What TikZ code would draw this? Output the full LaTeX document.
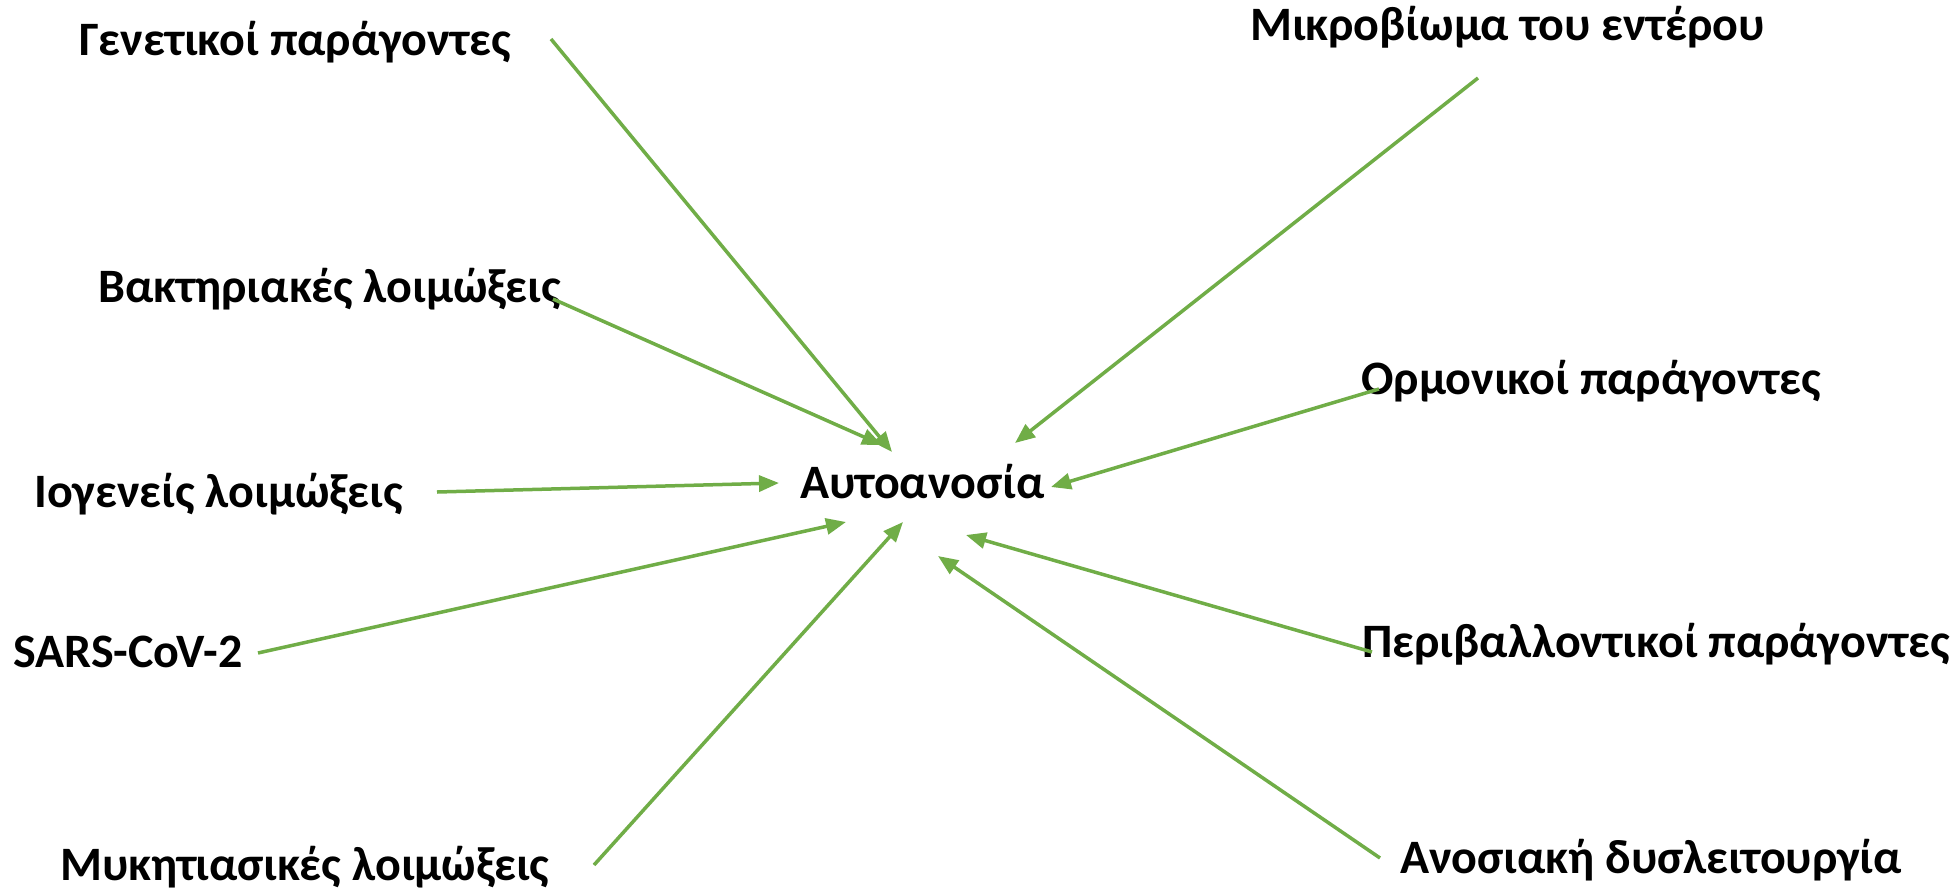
\documentclass[tikz,border=0pt]{standalone}
\usepackage{fontspec}
\setmainfont{Carlito}
\usetikzlibrary{arrows.meta}
\definecolor{leafgreen}{HTML}{70AD47}
\tikzset{
  factor/.style={anchor=base west, inner sep=0pt, font=\fontsize{48}{58}\selectfont\bfseries},
  link/.style={draw=leafgreen, line width=3.5pt, -{Triangle[length=20pt,width=16pt]}, leafgreen}
}
\begin{document}
\begin{tikzpicture}[x=1pt, y=-1pt]
\useasboundingbox (0,0) rectangle (1960,892);

\node[factor] (auto) at (800,498){Αυτοανοσία};

\node[factor] (gen) at (79,55){Γενετικοί παράγοντες};
\node[factor] (mikro) at (1250,40){Μικροβίωμα του εντέρου};
\node[factor] (vakt) at (98,302){Βακτηριακές λοιμώξεις};
\node[factor] (orm) at (1361,394){Ορμονικοί παράγοντες};
\node[factor] (iog) at (34,507){Ιογενείς λοιμώξεις};
\node[factor] (sars) at (13,667){SARS-CoV-2};
\node[factor] (periv) at (1362,657){Περιβαλλοντικοί παράγοντες};
\node[factor] (myk) at (60,880){Μυκητιασικές λοιμώξεις};
\node[factor] (anos) at (1400,873){Ανοσιακή δυσλειτουργία};

% free ends of the arrows
\coordinate (gen-s) at (551,39);
\coordinate (gen-t) at (892,452);
\coordinate (mikro-s) at (1478,78);
\coordinate (mikro-t) at (1015,443);
\coordinate (vakt-s) at (553,299);
\coordinate (vakt-t) at (882,445);
\coordinate (orm-s) at (1379,389);
\coordinate (orm-t) at (1051,487);
\coordinate (iog-s) at (437,492);
\coordinate (iog-t) at (779,483);
\coordinate (sars-s) at (258,653);
\coordinate (sars-t) at (846,522);
\coordinate (periv-s) at (1372,652);
\coordinate (periv-t) at (966,535);
\coordinate (myk-s) at (594,865);
\coordinate (myk-t) at (903,522);
\coordinate (anos-s) at (1380,858);
\coordinate (anos-t) at (938,556);

\foreach \f in {gen,mikro,vakt,orm,iog,sars,periv,myk,anos}
{
   \draw [link](\f-s)--(\f-t);
}
\end{tikzpicture}
\end{document}
